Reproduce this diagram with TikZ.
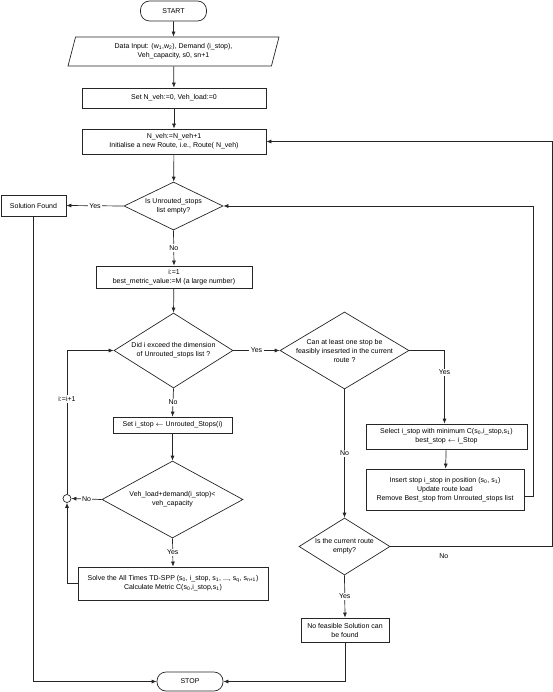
\documentclass[tikz,border=0pt]{standalone}
\usepackage{fontspec}
\setmainfont{Liberation Sans}
\usepackage{tikz}
\usetikzlibrary{shapes.geometric,arrows.meta}

\begin{document}
\begin{tikzpicture}[x=1pt,y=-1pt,
  every node/.style={font=\fontsize{7}{9}\selectfont},
  line/.style={draw=black!85,line width=0.7pt},
  arr/.style={line,-{Latex[length=5pt,width=4pt]}},
  box/.style={line,rectangle,inner sep=0pt,align=center},
  term/.style={line,rectangle,rounded corners=9pt,inner sep=0pt},
  dec/.style={line,diamond,inner sep=0pt},
  dectxt/.style={align=center,inner sep=0pt},
  io/.style={line,trapezium,trapezium left angle=64,trapezium right angle=116,
    trapezium stretches body,inner sep=0pt,align=center},
  lab/.style={fill=white,inner sep=1.5pt}]

\useasboundingbox (0,0) rectangle (553,692);

\node[term,minimum width=66pt,minimum height=20pt] (start) at (173.5,11) {START};
\node[io,minimum width=211pt,minimum height=29pt] (data) at (173.5,51.5)
  {Data Input: (w\textsubscript{1},w\textsubscript{2}), Demand (i\_stop),\\Veh\_capacity, s0, sn+1};
\node[box,minimum width=184pt,minimum height=20pt] (setn) at (174,98) {Set N\_veh:=0, Veh\_load:=0};
\node[box,minimum width=184pt,minimum height=25pt] (nveh) at (174,141.5)
  {N\_veh:=N\_veh+1\\Initialise a new Route, i.e., Route( N\_veh)};
\node[dec,minimum width=99pt,minimum height=48pt,
  label={[dectxt]center:Is Unrouted\_stops\\list empty?}] (unrouted) at (173.5,206) {};
\node[box,minimum width=65pt,minimum height=21pt] (found) at (33.5,205.5) {Solution Found};
\node[box,minimum width=156pt,minimum height=22pt] (init) at (174,277)
  {i:=1\\best\_metric\_value:=M (a large number)};
\node[dec,minimum width=119pt,minimum height=75pt,
  label={[dectxt]center:Did i exceed the dimension\\of Unrouted\_stops list ?}] (exceed) at (173.5,350.5) {};
\node[box,minimum width=119pt,minimum height=16pt] (setstop) at (172.5,425)
  {Set i\_stop $\leftarrow$ Unrouted\_Stops(i)};
\node[dec,minimum width=141pt,minimum height=77pt,
  label={[dectxt]center:Veh\_load+demand(i\_stop)<\\veh\_capacity}] (load) at (172.5,499.5) {};
\node[line,circle,minimum size=8pt,inner sep=0pt] (junc) at (67,498.5) {};
\node[box,minimum width=190pt,minimum height=33pt] (solve) at (173,583.5)
  {Solve the All Times TD-SPP (s\textsubscript{0}, i\_stop, s\textsubscript{1}, ..., s\textsubscript{q}, s\textsubscript{n+1})\\Calculate Metric C(s\textsubscript{0},i\_stop,s\textsubscript{1})};
\node[term,minimum width=66pt,minimum height=19pt] (stop) at (190,681.5) {STOP};

\node[dec,minimum width=129pt,minimum height=77pt,
  label={[dectxt]center:Can at least one stop be\\feasibly insesrted in the current\\route ?}] (feas) at (344.5,350.5) {};
\node[box,minimum width=161pt,minimum height=25pt] (select) at (446.5,436.5)
  {Select i\_stop with minimum C(s\textsubscript{0},i\_stop,s\textsubscript{1})\\best\_stop $\leftarrow$ i\_Stop};
\node[box,minimum width=158pt,minimum height=41pt] (insert) at (445,489.5)
  {Insert stop i\_stop in position (s\textsubscript{0}, s\textsubscript{1})\\Update route load\\Remove Best\_stop from Unrouted\_stops list};
\node[dec,minimum width=91pt,minimum height=57pt,
  label={[dectxt]center:Is the current route\\empty?}] (empty) at (344.5,546.5) {};
\node[box,minimum width=88pt,minimum height=24pt] (nofeas) at (345,630)
  {No feasible Solution can\\be found};

\draw[arr] (start) -- (data);
\draw[arr] (data) -- (setn);
\draw[arr] (setn) -- (nveh);
\draw[arr] (nveh) -- (unrouted);
\draw[arr] (unrouted.west) -- node[lab] {Yes} (found.east);
\draw[arr] (unrouted.south) -- node[lab] {No} (init.north);
\draw[arr] (init) -- (exceed.north);
\draw[arr] (exceed.east) -- node[lab] {Yes} (feas.west);
\draw[arr] (exceed.south) -- node[lab] {No} (setstop.north);
\draw[arr] (setstop) -- (load.north);
\draw[arr] (load.west) -- node[lab] {No} (junc.east);
\draw[arr] (load.south) -- node[lab] {Yes} (solve.north);
\draw[arr] (solve.west) -| (junc.south);
\draw[arr] (junc.north) |- node[lab,pos=0.33] {i:=i+1} (exceed.west);
\draw[arr] (feas.east) -| node[lab,pos=0.65] {Yes} ([xshift=-2pt]select.north);
\draw[arr] (select) -- (insert);
\draw[arr] ([yshift=-7pt]insert.east) -- ++(9,0) |- (unrouted.east);
\draw[arr] (feas.south) -- node[lab] {No} (empty.north);
\draw[arr] (empty.east) -- node[below=3pt,pos=0.33] {No} ++(162,0) |- (nveh.east);
\draw[arr] (empty.south) -- node[lab] {Yes} (nofeas.north);
\draw[arr] (nofeas.south) |- (stop.east);
\draw[arr] (found.south) |- (stop.west);
\end{tikzpicture}
\end{document}
